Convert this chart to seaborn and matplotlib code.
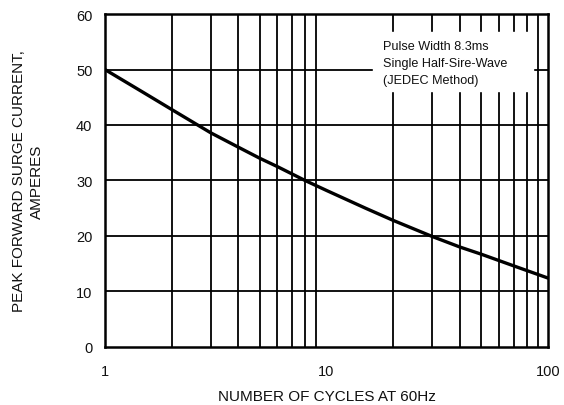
import matplotlib
matplotlib.use('Agg')
import matplotlib.pyplot as plt
import seaborn as sns
import pandas as pd

# ── Data ──────────────────────────────────────────────────────────────────
cycles  = [1, 1.5, 2, 3, 4, 5, 6, 8, 10, 15, 20, 30, 40, 50, 70, 100]
current = [50, 45.8, 42.8, 38.6, 36.0, 34.0, 32.5, 30.0, 28.2, 25.0, 22.8, 19.9, 18.0, 16.7, 14.6, 12.4]
note_lines = ['Pulse Width 8.3ms', 'Single Half-Sire-Wave', '(JEDEC Method)']

df = pd.DataFrame({'cycles': cycles, 'current': current})

# ── Style ─────────────────────────────────────────────────────────────────
sns.set_style('white')
plt.rcParams['font.family'] = ['Liberation Sans', 'DejaVu Sans']
plt.rcParams['text.color'] = '#111111'
plt.rcParams['xtick.color'] = '#111111'
plt.rcParams['ytick.color'] = '#111111'
plt.rcParams['axes.labelcolor'] = '#111111'

fig = plt.figure(figsize=(5.64, 4.06), dpi=100)
ax = fig.add_axes([0.186, 0.143, 0.786, 0.820])

ax.set_xscale('log')
ax.set_xlim(1, 100)
ax.set_ylim(0, 60)

# grid: every integer cycle on a log scale, 10 A steps
for xv in list(range(2, 10)) + list(range(20, 100, 10)):
    ax.axvline(xv, color='black', lw=1.3, zorder=1)
for yv in range(10, 60, 10):
    ax.axhline(yv, color='black', lw=1.3, zorder=1)

sns.lineplot(data=df, x='cycles', y='current', color='black', lw=2.4,
             ax=ax, zorder=3)

# white note box cutting through the grid
ax.fill_between([16.2, 85.5], 46.1, 56.8, color='white', zorder=2)
ax.text(17.9, 55.3, '\n'.join(note_lines), fontsize=9.1, va='top', ha='left',
        linespacing=1.55, zorder=4)

ax.set_xticks([1, 10, 100])
ax.set_xticklabels(['1', '10', '100'])
ax.minorticks_off()
ax.set_yticks(range(0, 61, 10))
ax.tick_params(axis='both', length=0, labelsize=10.5)
ax.tick_params(axis='x', pad=12)
ax.tick_params(axis='y', pad=9)

for s in ax.spines.values():
    s.set_color('black')
    s.set_linewidth(1.8)

ax.set_xlabel('NUMBER OF CYCLES AT 60Hz', fontsize=11, labelpad=8)
ax.set_ylabel('PEAK FORWARD SURGE CURRENT,\nAMPERES', fontsize=11,
              labelpad=23, linespacing=1.4)

fig.savefig('out.png', dpi=100)
